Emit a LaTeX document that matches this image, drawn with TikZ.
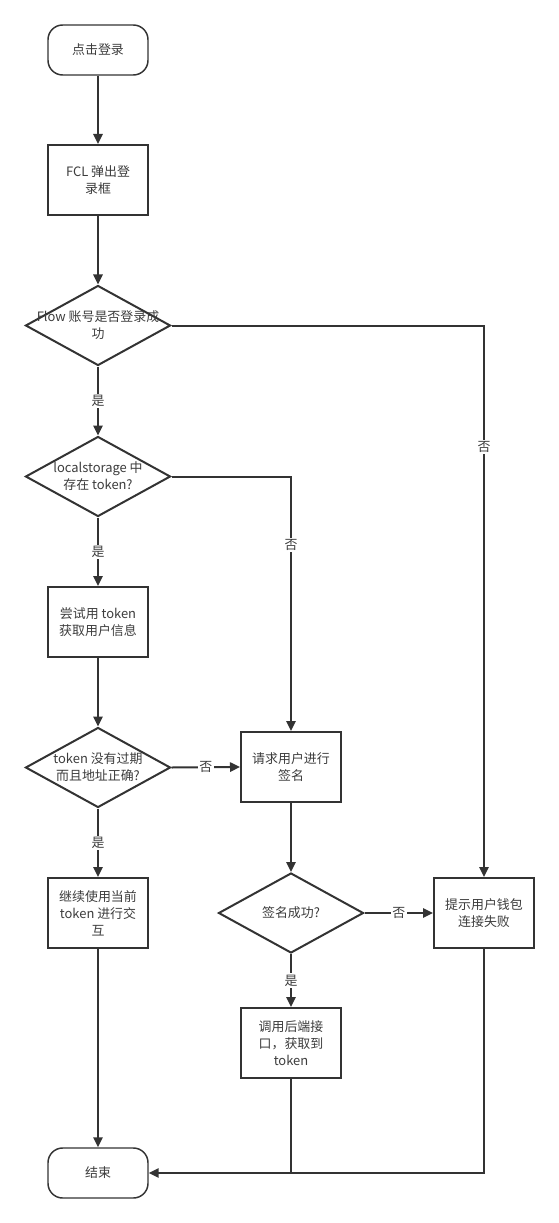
\documentclass[tikz,border=0pt]{standalone}
\usepackage{fontspec}
\setmainfont{Noto Sans CJK SC}
\usetikzlibrary{shapes.geometric,arrows.meta}
\definecolor{lncol}{RGB}{51,51,51}
\definecolor{txtcol}{RGB}{60,60,60}

\tikzset{every picture/.style={line width=1.5pt}}
\tikzset{
  base/.style={draw=lncol,text=txtcol,inner sep=0.75pt,align=center,font=\fontsize{9.7}{12.7}\selectfont},
  term/.style={base,rectangle,rounded corners=11pt,line width=1.1pt,minimum width=75pt,minimum height=37.5pt},
  proc/.style={base,rectangle,minimum width=75pt,minimum height=52.5pt},
  dec/.style={base,diamond,minimum width=108.75pt,minimum height=60pt},
  link/.style={draw=lncol,-{Triangle[length=7.5pt,width=7pt]}},
  plain/.style={draw=lncol},
  yn/.style={fill=white,text=txtcol,inner sep=1pt,font=\fontsize{9.7}{12.7}\selectfont}
}

\begin{document}
\begin{tikzpicture}[x=0.75pt,y=0.75pt,yscale=-1,xscale=1]
    \useasboundingbox (0,0) rectangle (559,1223);
    
    %Shape: Terminal [id:start] 
    \node[term] (start) at (98,50) {点击登录};
    %Shape: Rectangle [id:popup] 
    \node[proc] (popup) at (98,180) {FCL 弹出登\\录框};
    %Shape: Diamond [id:login] 
    \node[dec] (login) at (98,325.5) {};
    \node[base,draw=none] (logintxt) at (login) {Flow 账号是否登录成\\功};
    %Shape: Diamond [id:hastoken] 
    \node[dec] (hastoken) at (98,476.5) {};
    \node[base,draw=none] (hastokentxt) at (hastoken) {localstorage 中\\存在 token?};
    %Shape: Rectangle [id:trytoken] 
    \node[proc] (trytoken) at (98,622) {尝试用 token\\获取用户信息};
    %Shape: Diamond [id:valid] 
    \node[dec] (valid) at (98,767.5) {};
    \node[base,draw=none] (validtxt) at (valid) {token 没有过期\\而且地址正确?};
    %Shape: Rectangle [id:keepuse] 
    \node[proc] (keepuse) at (98,913) {继续使用当前\\token 进行交\\互};
    %Shape: Terminal [id:finish] 
    \node[term] (finish) at (98,1173) {结束};
    %Shape: Rectangle [id:asksign] 
    \node[proc] (asksign) at (291,767) {请求用户进行\\签名};
    %Shape: Diamond [id:signok] 
    \node[dec] (signok) at (291,913) {};
    \node[base,draw=none] (signoktxt) at (signok) {签名成功?};
    %Shape: Rectangle [id:gettoken] 
    \node[proc] (gettoken) at (291,1043) {调用后端接\\口，获取到\\token};
    %Shape: Rectangle [id:failmsg] 
    \node[proc] (failmsg) at (484,913) {提示用户钱包\\连接失败};
    
    %Straight Lines [id:main column] 
    \draw[link] (start) -- (popup);
    \draw[link] (popup) -- (login);
    \draw[link] (login) -- node[yn] {是} (hastoken);
    \draw[link] (hastoken) -- node[yn] {是} (trytoken);
    \draw[link] (trytoken) -- (valid);
    \draw[link] (valid) -- node[yn] {是} (keepuse);
    \draw[link] (keepuse) -- (finish);
    
    %Straight Lines [id:no branches] 
    \draw[link] (login.east) -| node[yn,pos=0.61] {否} (failmsg.north);
    \draw[link] (hastoken.east) -| node[yn,pos=0.635] {否} (asksign.north);
    \draw[link] (valid.east) -- node[yn] {否} (asksign.west);
    \draw[link] (asksign) -- (signok);
    \draw[link] (signok.east) -- node[yn] {否} (failmsg.west);
    \draw[link] (signok) -- node[yn] {是} (gettoken);
    
    %Straight Lines [id:to finish] 
    \draw[link] (failmsg.south) |- (finish.east);
    \draw[plain] (gettoken.south) -- (gettoken.south |- finish.east);
    
\end{tikzpicture}
\end{document}
